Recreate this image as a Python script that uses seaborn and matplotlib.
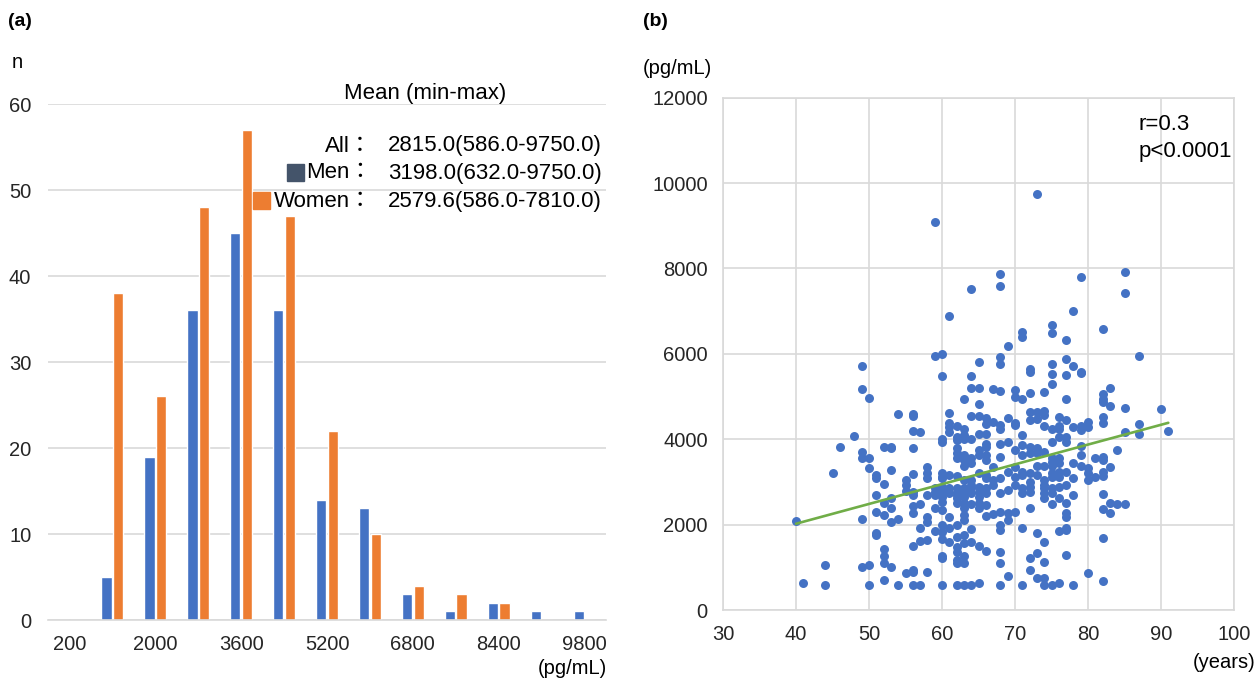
import matplotlib
matplotlib.use("Agg")
import matplotlib.pyplot as plt
import seaborn as sns
import pandas as pd
from matplotlib.patches import Rectangle

blue = "#4472C4"
orange = "#ED7D31"
green = "#70AD47"
grid_c = "#D9D9D9"

#%% data (a): BNP-like concentration bins, counts by sex
bins = ["200", "1200", "2000", "2800", "3600", "4400", "5200",
        "6000", "6800", "7600", "8400", "9200", "9800"]
men = [0, 5, 19, 36, 45, 36, 14, 13, 3, 1, 2, 1, 1]
women = [0, 38, 26, 48, 57, 47, 22, 10, 4, 3, 2, 0, 0]

groups = ["All", "Men", "Women"]
means = ["2815.0", "3198.0", "2579.6"]
mins = ["586.0", "632.0", "586.0"]
maxs = ["9750.0", "9750.0", "7810.0"]

#%% data (b): age vs concentration
ages = [40, 41, 44, 45, 46, 48, 49, 50, 51, 52, 53, 54, 55, 56, 57, 58, 59, 60,
        61, 62, 63, 64, 65, 66, 67, 68, 69, 70, 71, 72, 73, 74, 75, 76, 77, 78,
        79, 80, 81, 82, 83, 84, 85, 87, 90, 91]
conc_by_age = [
    [2083],
    [624],
    [1053, 585],
    [3198],
    [3822],
    [4072],
    [5725, 5172, 3705, 3549, 2122, 1014],
    [4977, 3549, 3331, 1053, 586],
    [3159, 3081, 2691, 2301, 1810, 1755],
    [3822, 2948, 2512, 2223, 1427, 1264, 1108, 702],
    [3822, 3783, 3276, 2613, 2379, 2067, 1014],
    [4602, 2130, 586],
    [3042, 2925, 2793, 858],
    [4587, 4540, 4197, 3800, 3183, 2769, 2691, 2442, 2278, 1498, 936, 881, 586],
    [4173, 2473, 1927, 1615, 586],
    [3354, 3214, 3081, 2691, 2184, 2067, 1638, 881],
    [9100, 5952, 2847, 2769, 2691, 2379, 1856],
    [5990, 5490, 4017, 3939, 3198, 3120, 3081, 2886, 2769, 2652, 2535, 2340,
     1989, 1833, 1654, 1264, 1209, 586],
    [6883, 4618, 4384, 4275, 4173, 3159, 2847, 2730, 2184, 1911, 1599],
    [4314, 4056, 3978, 3783, 3666, 3549, 3136, 2847, 2769, 2691, 2613, 2512,
     1989, 1716, 1482, 1365, 1170, 1092, 586],
    [4953, 4228, 4095, 4017, 3627, 3510, 3370, 3042, 2847, 2730, 2652, 2496,
     2379, 2223, 2106, 1755, 1560, 1264, 1092, 586],
    [7515, 5490, 5210, 4540, 4017, 3549, 3432, 3042, 2925, 2847, 2730, 2481,
     1895, 1583, 586],
    [5803, 5210, 4836, 4540, 4134, 3744, 3627, 3198, 2886, 2769, 2652, 2496,
     2379, 1505, 624],
    [4509, 4368, 4111, 3900, 3822, 3627, 3510, 3159, 3081, 2847, 2730, 2457,
     2200, 1388],
    [5187, 4399, 3339, 3042, 2925, 2246],
    [7880, 7600, 5928, 5772, 5133, 4329, 4251, 3900, 3588, 3081, 2730, 2301,
     1989, 1872, 1349, 1092, 586],
    [6178, 4509, 3939, 3237, 2808, 2262, 2106, 803],
    [5148, 4992, 4384, 4329, 3744, 3339, 3120, 2925, 2301],
    [6516, 6400, 4938, 4095, 3861, 3627, 3237, 3159, 2847, 2730, 1927, 586],
    [5655, 5577, 5094, 4641, 4462, 3822, 3666, 3198, 3003, 2886, 2769, 2379,
     1209, 936],
    [9750, 4641, 4485, 3783, 3666, 3370, 3159, 1810, 1326, 757],
    [5109, 4665, 4563, 4306, 3705, 3370, 3042, 2925, 2847, 2730, 2613, 1599,
     1115, 757, 586],
    [6672, 6500, 5772, 5538, 5304, 4228, 3939, 3549, 3471, 3370, 3198, 3120,
     2847, 2730, 2481, 586],
    [4524, 4306, 4228, 4056, 3549, 3432, 3237, 3120, 2886, 2613, 1856, 624],
    [6320, 5890, 5515, 4938, 4462, 4056, 3939, 3237, 2925, 2512, 2262, 2184,
     1911, 1872, 1295],
    [7008, 5710, 4275, 3448, 3081, 2691, 586],
    [7805, 5577, 5540, 4306, 4212, 3838, 3627, 3370],
    [4407, 4275, 3315, 3198, 3042, 873],
    [3549, 3105],
    [6578, 5070, 4953, 4875, 4524, 4384, 3588, 3510, 3237, 3136, 2715, 2356,
     1677, 686],
    [5203, 4774, 3339, 2512, 2278],
    [3744, 2481],
    [7906, 7430, 4735, 4173, 2481],
    [5960, 4368, 4134],
    [4711],
    [4197],
]
r_text = "r=0.3"
p_text = "p<0.0001"

#%% build tables
df_bar = pd.DataFrame({"bin": bins * 2,
                       "n": men + women,
                       "sex": ["Men"] * len(bins) + ["Women"] * len(bins)})
df_sc = pd.DataFrame([(a, v) for a, vals in zip(ages, conc_by_age) for v in vals],
                     columns=["age", "conc"])

sns.set_style("white")
plt.rcParams["font.family"] = ["Liberation Sans", "Noto Sans CJK JP"]
plt.rcParams["text.color"] = "black"

W, H = 1257, 679
fig = plt.figure(figsize=(W / 100, H / 100), dpi=100)

def px(x, y):
    return x / W, 1 - y / H

#%% (a) bars
ax1 = fig.add_axes([48 / W, 1 - 620 / H, 558 / W, 516 / H])
sns.barplot(data=df_bar, x="bin", y="n", hue="sex", order=bins,
            palette=[blue, orange], width=0.54, gap=0.12, saturation=1,
            legend=False, ax=ax1)
ax1.set_xlim(-0.5, len(bins) - 0.5)
ax1.set_ylim(0, 60)
ax1.set_yticks(range(0, 61, 10))
ax1.set_xticks(range(0, len(bins), 2))
ax1.set_xticklabels(bins[::2])
ax1.set_xlabel("")
ax1.set_ylabel("")
ax1.yaxis.grid(True, color=grid_c, lw=1.2)
ax1.set_axisbelow(True)
for s in ["left", "right", "top"]:
    ax1.spines[s].set_visible(False)
ax1.spines["bottom"].set_color(grid_c)
ax1.spines["bottom"].set_linewidth(1.2)
ax1.tick_params(axis="x", length=0, pad=11, labelsize=14.5)
ax1.tick_params(axis="y", length=0, pad=12, labelsize=14.5)

fig.text(*px(8, 21), "(a)", fontsize=14, fontweight="bold", va="center")
fig.text(*px(12, 62), "n", fontsize=14.5, va="center")
fig.text(*px(607, 668), "(pg/mL)", fontsize=14.5, ha="right", va="center")

fig.text(*px(425, 94), "Mean (min-max)", fontsize=16, ha="center", va="center")
row_y = [146, 173, 201]
for g, m, lo, hi, y in zip(groups, means, mins, maxs, row_y):
    fig.text(*px(372, y), g + "：", fontsize=16, ha="right", va="center")
    fig.text(*px(388, y), f"{m}({lo}-{hi})", fontsize=16, ha="left", va="center")
fig.add_artist(Rectangle(px(287, 181), 17 / W, 17 / H, color="#44546A",
                         transform=fig.transFigure))
fig.add_artist(Rectangle(px(253, 209), 17 / W, 17 / H, color=orange,
                         transform=fig.transFigure))

#%% (b) scatter
ax2 = fig.add_axes([723 / W, 1 - 610 / H, 511 / W, 512.3 / H])
sns.regplot(data=df_sc, x="age", y="conc", ci=None, ax=ax2, color=blue,
            scatter_kws={"s": 42, "linewidths": 0, "alpha": 1, "zorder": 3},
            line_kws={"color": green, "lw": 1.9, "zorder": 4})
ax2.set_xlim(30, 100)
ax2.set_ylim(0, 12000)
ax2.set_xticks(range(30, 101, 10))
ax2.set_yticks(range(0, 12001, 2000))
ax2.set_xlabel("")
ax2.set_ylabel("")
ax2.grid(True, color=grid_c, lw=1.2)
ax2.set_axisbelow(True)
for s in ax2.spines.values():
    s.set_color(grid_c)
    s.set_linewidth(1.2)
ax2.tick_params(direction="out", length=4, width=1.2, color=grid_c,
                labelsize=14.5, pad=7)

fig.text(*px(643, 21), "(b)", fontsize=14, fontweight="bold", va="center")
fig.text(*px(643, 68), "(pg/mL)", fontsize=14.5, va="center")
fig.text(*px(1256, 662), "(years)", fontsize=14.5, ha="right", va="center")
fig.text(*px(1139, 124), r_text, fontsize=16, va="center")
fig.text(*px(1139, 151), p_text, fontsize=16, va="center")

fig.savefig("out.png", dpi=100)
